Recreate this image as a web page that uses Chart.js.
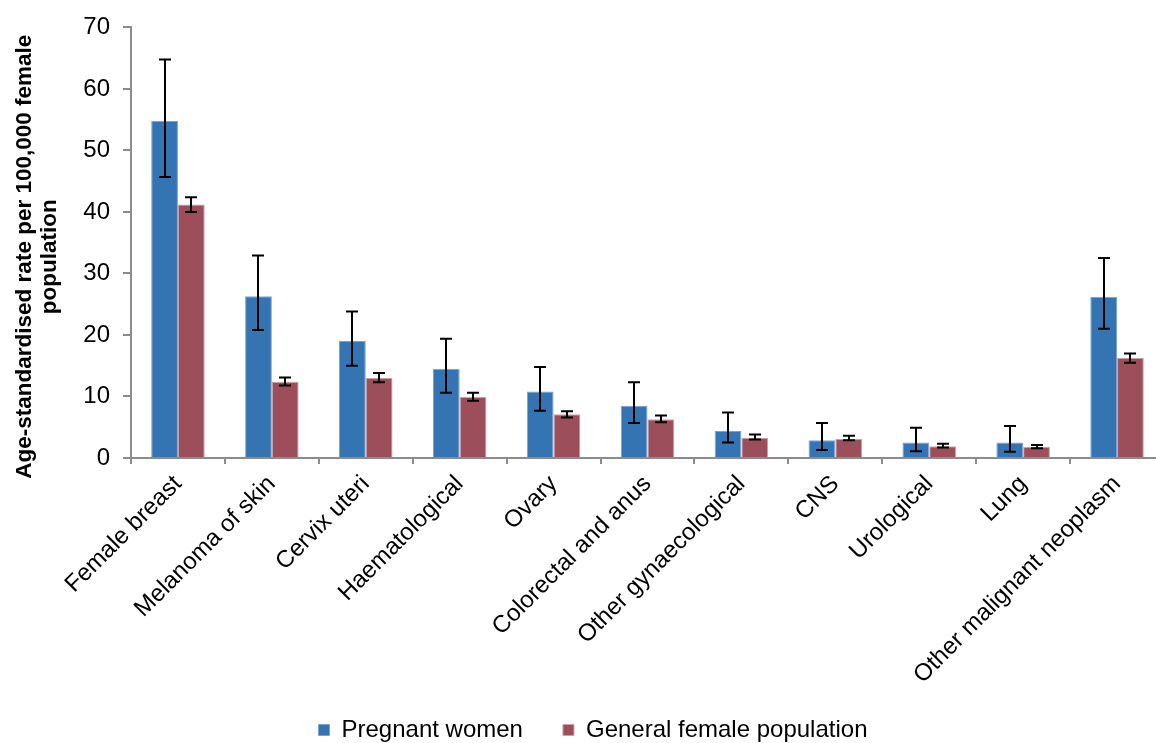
<!DOCTYPE html>
<html>
<head>
<meta charset="utf-8">
<script src="https://cdn.jsdelivr.net/npm/chart.js@4.4.1/dist/chart.umd.min.js"></script>
<style>
  html, body { margin: 0; padding: 0; background: #fff; overflow: hidden; }
  #wrap { position: relative; width: 1165px; height: 752px; }
</style>
</head>
<body>
<div id="wrap"><canvas id="c"></canvas></div>
<script>
// Cancer sites
const categories = [
  'Female breast', 'Melanoma of skin', 'Cervix uteri', 'Haematological', 'Ovary',
  'Colorectal and anus', 'Other gynaecological', 'CNS', 'Urological', 'Lung',
  'Other malignant neoplasm'
];

// Age-standardised rates per 100,000
const pregnantRate  = [54.8, 26.3, 19.0, 14.5, 10.8, 8.5, 4.4, 2.9, 2.5, 2.5, 26.2];
const pregnantLower = [45.7, 20.8, 15.0, 10.6, 7.7, 5.7, 2.5, 1.3, 1.1, 1.0, 21.0];
const pregnantUpper = [64.8, 32.9, 23.8, 19.4, 14.8, 12.3, 7.4, 5.7, 4.9, 5.2, 32.5];

const generalRate  = [41.2, 12.4, 13.0, 9.9, 7.1, 6.3, 3.3, 3.1, 1.9, 1.8, 16.3];
const generalLower = [40.0, 11.8, 12.3, 9.3, 6.6, 5.8, 3.0, 2.9, 1.7, 1.6, 15.5];
const generalUpper = [42.4, 13.1, 13.8, 10.6, 7.6, 6.9, 3.8, 3.6, 2.3, 2.1, 17.0];

const yTicks = [0, 10, 20, 30, 40, 50, 60, 70];

const FONT = 'Arial, "Liberation Sans", sans-serif';

// Confidence-interval whiskers drawn on top of each bar
const errorBars = {
  id: 'errorBars',
  afterDatasetsDraw(chart) {
    const ctx = chart.ctx;
    const y = chart.scales.y;
    const half = 6;
    ctx.save();
    ctx.strokeStyle = '#000';
    ctx.lineWidth = 2;
    chart.data.datasets.forEach((ds, i) => {
      const meta = chart.getDatasetMeta(i);
      meta.data.forEach((bar, j) => {
        const x = Math.round(bar.x);
        const top = y.getPixelForValue(ds.upper[j]);
        const bot = y.getPixelForValue(ds.lower[j]);
        ctx.beginPath();
        ctx.moveTo(x, top); ctx.lineTo(x, bot);
        ctx.moveTo(x - half, top); ctx.lineTo(x + half, top);
        ctx.moveTo(x - half, bot); ctx.lineTo(x + half, bot);
        ctx.stroke();
      });
    });
    ctx.restore();
  }
};

// Nudge the legend row a little to the right of the canvas centre
const legendShift = {
  id: 'legendShift',
  afterLayout(chart) {
    if (chart.legend) {
      chart.legend.left += 11;
      chart.legend.right += 11;
    }
  }
};

const PLOT_BOTTOM = 458;
const PAD_BOTTOM = 0;
const TITLE_DROP = 14;

new Chart(document.getElementById('c'), {
  type: 'bar',
  data: {
    labels: categories,
    datasets: [
      {
        label: 'Pregnant women',
        data: pregnantRate,
        lower: pregnantLower,
        upper: pregnantUpper,
        backgroundColor: '#3574b2',
        borderColor: '#7aa3d2',
        borderWidth: 1,
        categoryPercentage: 0.57,
        barPercentage: 1.0
      },
      {
        label: 'General female population',
        data: generalRate,
        lower: generalLower,
        upper: generalUpper,
        backgroundColor: '#9c4f5b',
        borderColor: '#c9a1a8',
        borderWidth: 1,
        categoryPercentage: 0.57,
        barPercentage: 1.0
      }
    ]
  },
  options: {
    responsive: true,
    maintainAspectRatio: false,
    animation: false,
    layout: { padding: { top: 25, right: 1, bottom: PAD_BOTTOM, left: 0 } },
    plugins: {
      legend: {
        position: 'bottom',
        labels: {
          boxWidth: 11,
          boxHeight: 11,
          color: '#000',
          padding: 40,
          font: { family: FONT, size: 24 }
        }
      },
      tooltip: { enabled: false }
    },
    scales: {
      x: {
        grid: {
          display: true,
          drawOnChartArea: false,
          offset: true,
          color: '#8c8c8c',
          tickLength: 6,
          lineWidth: 2
        },
        border: { color: '#8c8c8c', width: 2 },
        ticks: {
          color: '#000',
          maxRotation: 45,
          minRotation: 45,
          padding: 6,
          autoSkip: false,
          font: { family: FONT, size: 24 }
        },
        afterFit(scale) {
          const legendH = scale.chart.legend ? scale.chart.legend.height : 0;
          scale.height = scale.chart.height - PAD_BOTTOM - legendH - PLOT_BOTTOM;
          // the longest rotated label runs a little past the scale box
          scale._computeLabelArea = () => undefined;
        }
      },
      y: {
        min: 0,
        max: 70,
        afterBuildTicks(scale) {
          scale.ticks = yTicks.map(v => ({ value: v }));
        },
        grid: {
          display: true,
          drawOnChartArea: false,
          color: '#8c8c8c',
          tickLength: 8,
          lineWidth: 2
        },
        border: { color: '#8c8c8c', width: 2 },
        ticks: {
          color: '#000',
          padding: 13,
          font: { family: FONT, size: 24 }
        },
        title: {
          display: true,
          text: ['Age-standardised rate per 100,000 female', 'population'],
          color: '#000',
          padding: { top: 12, bottom: 0 },
          font: { family: FONT, size: 22.5, weight: 'bold', lineHeight: 1.13 }
        },
        afterFit(scale) {
          scale.width = 131;
          // sit the axis title slightly below the middle of the axis
          if (!scale._titleWrapped) {
            const draw = scale.drawTitle;
            scale.drawTitle = function () {
              this.ctx.save();
              this.ctx.translate(0, TITLE_DROP);
              draw.apply(this, arguments);
              this.ctx.restore();
            };
            scale._titleWrapped = true;
          }
        }
      }
    }
  },
  plugins: [errorBars, legendShift]
});
</script>
</body>
</html>
